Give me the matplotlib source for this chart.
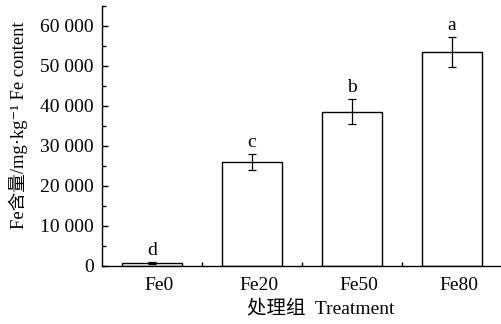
"""
Fe content by treatment group: bar chart with error bars and significance letters.
"""

import matplotlib
matplotlib.use("Agg")
import matplotlib.pyplot as plt
import matplotlib.ticker as mticker
import matplotlib.transforms as mtransforms

# ---------------------------------------------------------------------------
# Data
# ---------------------------------------------------------------------------
treatments = ["Fe0", "Fe20", "Fe50", "Fe80"]
fe_content = [750, 26000, 38600, 53500]
fe_err = [200, 2000, 3100, 3750]
sig_letters = ["d", "c", "b", "a"]

plt.rcParams["font.family"] = ["Liberation Serif", "Noto Sans CJK SC", "DejaVu Serif"]

fig = plt.figure(figsize=(5.02, 3.24), dpi=100)
ax = fig.add_axes([102 / 502, 58 / 324, 400 / 502, 260 / 324])

x = range(len(treatments))
ax.bar(x, fe_content, width=0.6, color="white", edgecolor="black", linewidth=1.0)
ax.errorbar(x, fe_content, yerr=fe_err, fmt="none", ecolor="black",
            elinewidth=0.9, capsize=3, capthick=0.9)

for xi, v, e, lab in zip(x, fe_content, fe_err, sig_letters):
    ax.annotate(lab, (xi, v + e), xytext=(0, 5), textcoords="offset points",
                ha="center", va="baseline", fontsize=14)

ax.set_xlim(-0.5, 3.5)
ax.set_ylim(0, 65000)

# axis styling
ax.spines["top"].set_visible(False)
ax.spines["right"].set_visible(False)
for s in ("left", "bottom"):
    ax.spines[s].set_linewidth(1.0)

ax.set_xticks(list(x))
ax.set_xticklabels(treatments, fontsize=14)
ax.set_xticks([0.5, 1.5, 2.5], minor=True)
ax.tick_params(axis="x", which="major", length=0, pad=8)
ax.tick_params(axis="x", which="minor", direction="in", length=3, width=1.0)
# labels in the reference sit a little right of the bar centres
shift = mtransforms.ScaledTranslation(7 / 100, 0, fig.dpi_scale_trans)
for lbl in ax.get_xticklabels():
    lbl.set_transform(lbl.get_transform() + shift)

ax.yaxis.set_major_locator(mticker.MultipleLocator(10000))
ax.yaxis.set_minor_locator(mticker.MultipleLocator(5000))
ax.yaxis.set_major_formatter(
    mticker.FuncFormatter(lambda v, p: f"{v:,.0f}".replace(",", " ")))
ax.tick_params(axis="y", which="major", direction="in", length=4, width=1.0,
               labelsize=14, pad=6)
ax.tick_params(axis="y", which="minor", direction="in", length=3, width=1.0)

ax.set_ylabel("Fe含量/mg·kg⁻¹ Fe content", fontsize=13.4)
ax.yaxis.set_label_coords(-0.185, 0.54)
ax.set_xlabel("处理组  Treatment", fontsize=14)
ax.xaxis.set_label_coords((321 - 102) / 400, -0.13)

fig.savefig("out.png", dpi=100)
